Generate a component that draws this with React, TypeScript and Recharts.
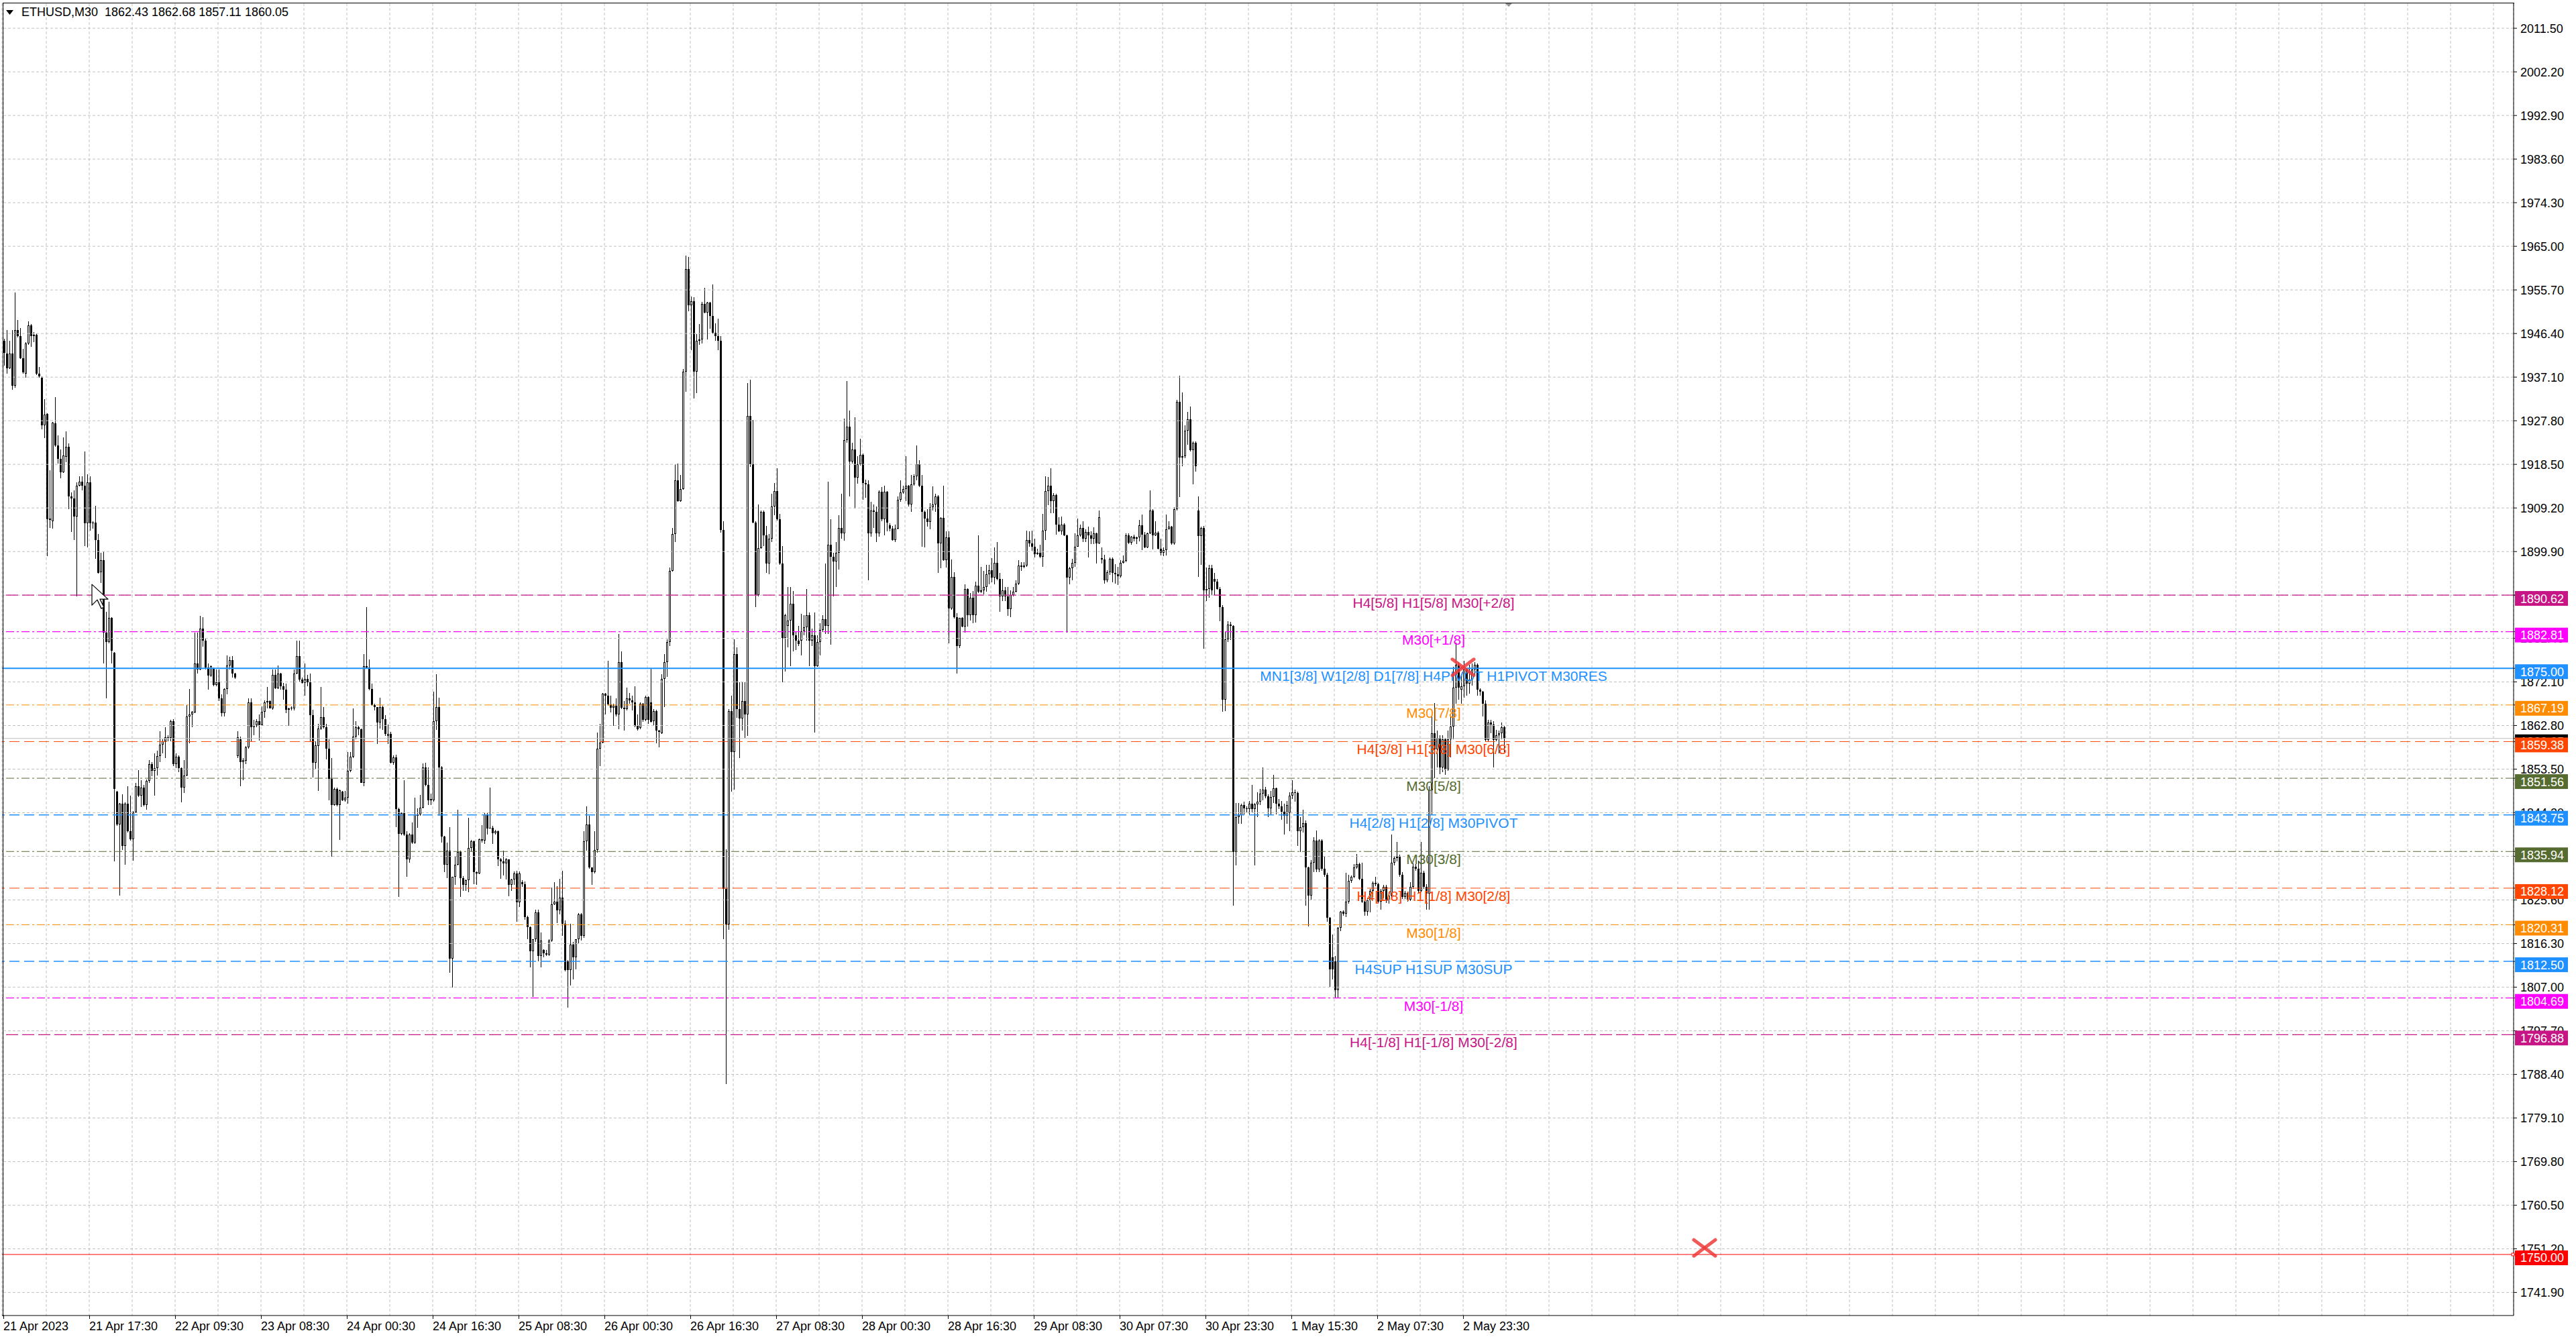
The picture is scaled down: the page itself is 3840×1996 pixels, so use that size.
import React from 'react';
import { ComposedChart, Bar, XAxis, YAxis, CartesianGrid, ReferenceLine, ReferenceDot } from 'recharts';

const FONT = '"Liberation Sans", Arial, sans-serif';

const opens = [
1944.9,1942.1,1939.0,1942.1,1935.3,1947.1,1945.8,1941.1,1937.9,1944.3,
1948.2,1946.2,1946.1,1937.9,1937.0,1926.8,1929.3,1907.0,1906.3,1927.2,
1922.5,1919.7,1916.8,1920.1,1922.3,1911.6,1911.3,1907.4,1914.0,1914.8,
1914.0,1905.9,1914.7,1905.9,1906.1,1902.4,1895.5,1898.0,1882.6,1880.6,
1885.7,1878.3,1848.7,1841.7,1846.1,1837.1,1846.1,1840.3,1838.5,1844.3,
1849.8,1847.8,1849.6,1845.8,1851.0,1854.6,1853.1,1853.7,1856.3,1858.7,
1859.4,1860.3,1860.1,1863.8,1854.6,1856.1,1853.7,1849.6,1852.2,1864.7,
1865.1,1865.6,1876.1,1874.8,1883.5,1880.9,1875.2,1873.4,1874.9,1871.5,
1872.1,1868.6,1865.4,1870.6,1875.6,1876.8,1873.9,1856.3,1859.9,1855.0,
1855.3,1858.1,1867.7,1862.5,1862.9,1863.8,1862.9,1865.7,1867.7,1868.0,
1866.5,1873.6,1870.8,1873.9,1871.2,1870.4,1866.2,1866.4,1866.4,1873.9,
1877.6,1872.6,1871.9,1872.7,1872.1,1865.0,1854.9,1858.4,1862.2,1864.6,
1862.5,1857.8,1851.4,1845.9,1849.3,1845.9,1848.7,1846.8,1847.4,1853.2,
1856.2,1860.4,1862.4,1862.0,1850.6,1875.4,1875.2,1870.6,1867.2,1866.7,
1863.4,1866.7,1864.2,1860.6,1861.0,1854.8,1856.0,1845.0,1839.7,1844.1,
1839.6,1834.2,1839.6,1837.8,1843.5,1843.9,1845.3,1853.9,1850.2,1846.8,
1846.8,1863.8,1866.8,1853.9,1839.1,1833.1,1836.1,1813.1,1830.5,1833.1,
1835.9,1830.3,1828.8,1829.8,1836.7,1838.1,1831.5,1831.3,1838.5,1838.3,
1843.9,1840.9,1841.0,1839.9,1840.3,1834.2,1833.9,1833.4,1834.2,1828.8,
1829.9,1831.3,1825.1,1829.4,1829.0,1821.9,1819.8,1814.6,1817.2,1823.0,
1813.7,1815.0,1814.2,1813.9,1816.9,1824.7,1825.2,1823.4,1826.1,1820.5,
1812.5,1810.6,1816.1,1813.4,1817.2,1822.5,1817.9,1838.1,1841.7,1832.5,
1831.5,1836.3,1857.8,1859.2,1869.6,1869.2,1867.3,1866.6,1867.0,1865.1,
1876.3,1866.6,1866.3,1868.6,1868.2,1867.8,1862.8,1862.3,1867.4,1864.0,
1868.9,1867.8,1863.7,1865.9,1861.7,1861.1,1872.8,1876.3,1880.6,1895.8,
1903.6,1915.1,1910.7,1913.3,1938.3,1960.1,1952.4,1953.3,1938.3,1944.9,
1945.1,1952.7,1950.9,1953.0,1950.1,1946.6,1945.8,1944.9,1904.5,1828.0,
1820.4,1865.9,1857.1,1878.1,1866.3,1864.3,1868.0,1865.1,1928.8,1918.5,
1906.1,1890.7,1900.7,1908.4,1903.4,1897.3,1902.7,1909.5,1912.8,1906.8,
1897.3,1881.5,1884.0,1885.2,1888.7,1882.0,1880.9,1880.9,1882.9,1883.8,
1886.4,1880.9,1882.0,1875.5,1880.6,1883.2,1885.5,1884.1,1901.3,1898.8,
1897.8,1899.6,1905.0,1903.8,1923.7,1926.5,1919.1,1921.7,1915.6,1918.5,
1920.6,1914.5,1914.2,1903.8,1908.7,1908.4,1903.8,1912.6,1906.8,1912.6,
1905.5,1904.8,1902.4,1904.8,1911.0,1912.5,1913.2,1913.9,1909.9,1914.2,
1916.0,1918.5,1913.9,1908.4,1906.9,1906.2,1909.3,1910.0,1911.7,1901.6,
1907.1,1898.1,1903.0,1887.7,1894.5,1885.9,1879.8,1885.7,1883.9,1891.9,
1886.3,1890.0,1886.3,1892.7,1891.3,1891.6,1892.3,1895.0,1895.9,1894.4,
1897.5,1894.0,1890.4,1891.6,1890.4,1887.6,1890.7,1891.4,1893.1,1896.9,
1896.6,1896.9,1902.3,1901.6,1900.9,1899.4,1899.6,1898.8,1904.3,1912.8,
1913.9,1910.7,1912.0,1905.6,1904.2,1905.7,1903.3,1894.3,1896.4,1897.5,
1901.0,1903.3,1905.0,1902.6,1904.1,1903.4,1902.6,1903.8,1901.6,1898.5,
1898.2,1893.8,1895.5,1898.4,1895.4,1895.0,1894.6,1897.5,1897.9,1903.3,
1901.8,1903.1,1902.6,1902.9,1905.5,1903.5,1900.8,1903.8,1908.6,1903.3,
1903.9,1900.5,1899.7,1900.2,1904.7,1905.2,1901.6,1908.9,1931.9,1919.9,
1920.2,1925.7,1928.1,1921.5,1923.1,1908.6,1903.2,1905.0,1891.6,1891.9,
1896.4,1894.0,1893.5,1891.9,1888.0,1868.3,1881.2,1884.4,1884.0,1835.8,
1843.3,1843.7,1845.8,1845.2,1845.0,1846.2,1845.0,1846.0,1846.5,1848.3,
1849.2,1847.7,1845.2,1847.5,1849.4,1846.2,1845.6,1844.4,1843.5,1844.1,
1847.9,1848.5,1848.4,1840.2,1841.1,1842.0,1832.5,1826.6,1833.6,1838.2,
1832.1,1838.2,1832.3,1831.0,1821.8,1813.4,1812.5,1806.4,1819.6,1823.1,
1822.7,1825.3,1829.7,1830.6,1832.5,1833.2,1830.1,1825.3,1823.1,1825.5,
1827.5,1829.2,1829.0,1825.3,1827.5,1828.4,1825.5,1826.6,1833.6,1834.5,
1834.9,1831.0,1826.2,1827.1,1825.7,1828.4,1832.7,1832.3,1827.5,1831.4,
1828.4,1827.0,1849.0,1861.2,1857.7,1860.2,1853.8,1859.9,1853.4,1859.9,
1862.6,1870.9,1875.7,1870.4,1871.2,1874.8,1871.8,1872.6,1874.8,1875.7,
1870.5,1870.0,1867.4,1859.7,1863.4,1863.0,1859.7,1860.8,1861.2,1862.43,
];

const highs = [
1945.3,1947.1,1944.9,1947.1,1955.2,1949.3,1947.5,1943.2,1944.5,1949.0,
1948.4,1946.7,1946.4,1939.2,1937.3,1932.4,1929.4,1917.3,1927.6,1932.9,
1924.7,1921.7,1924.3,1925.6,1923.0,1912.5,1912.9,1914.7,1916.0,1916.0,
1921.2,1916.4,1916.0,1906.3,1909.6,1903.7,1899.7,1899.9,1887.0,1889.2,
1885.9,1878.5,1848.9,1846.3,1848.2,1846.4,1849.9,1847.8,1844.5,1850.6,
1853.3,1851.1,1850.2,1851.3,1855.5,1855.0,1856.8,1857.5,1861.6,1859.8,
1862.5,1860.7,1864.0,1864.2,1856.8,1856.4,1853.9,1855.5,1867.1,1870.6,
1865.9,1882.6,1882.6,1886.2,1885.9,1881.3,1876.1,1875.6,1875.2,1874.8,
1874.8,1869.5,1870.8,1877.8,1877.4,1877.6,1874.1,1861.6,1860.5,1855.9,
1858.5,1868.6,1868.6,1864.0,1864.2,1865.1,1866.9,1868.2,1871.0,1868.2,
1874.8,1874.8,1875.6,1874.1,1871.9,1871.7,1866.6,1866.9,1874.8,1880.9,
1880.9,1873.0,1876.0,1873.6,1873.9,1866.2,1859.5,1863.1,1871.0,1866.7,
1863.1,1859.8,1855.9,1849.6,1849.5,1849.2,1848.9,1848.9,1857.1,1857.1,
1866.4,1863.7,1862.8,1862.2,1878.0,1888.1,1876.9,1871.8,1867.4,1866.8,
1868.8,1867.0,1865.0,1863.0,1861.4,1856.4,1856.6,1845.3,1844.3,1851.2,
1840.2,1839.8,1842.2,1847.4,1845.2,1848.0,1854.7,1854.8,1853.9,1848.3,
1870.0,1873.8,1868.8,1854.1,1839.3,1837.8,1841.1,1830.6,1834.8,1844.9,
1836.1,1830.7,1829.9,1843.1,1838.4,1838.2,1831.7,1838.7,1841.5,1844.3,
1844.1,1849.6,1841.4,1840.5,1840.4,1834.5,1836.1,1834.6,1834.3,1830.1,
1831.7,1831.8,1831.7,1829.8,1829.5,1822.2,1819.9,1817.3,1823.6,1823.6,
1818.6,1815.1,1814.9,1817.3,1828.2,1829.4,1828.5,1830.1,1831.9,1821.3,
1812.8,1820.5,1816.7,1817.3,1822.8,1822.8,1840.2,1845.5,1843.5,1832.6,
1840.3,1861.3,1863.1,1869.8,1869.7,1876.6,1869.2,1867.4,1868.6,1882.3,
1878.6,1868.0,1870.9,1869.7,1869.1,1871.2,1865.1,1867.8,1867.6,1869.1,
1869.0,1875.1,1866.3,1866.1,1861.9,1873.7,1878.1,1881.2,1896.5,1905.0,
1918.5,1918.7,1916.2,1938.9,1963.0,1962.7,1954.3,1954.1,1946.3,1948.4,
1953.2,1956.2,1953.2,1953.2,1956.8,1948.6,1949.5,1945.8,1906.4,1836.4,
1866.3,1869.1,1881.2,1879.5,1872.0,1872.0,1872.0,1935.9,1936.6,1927.9,
1906.4,1909.9,1908.7,1908.6,1905.3,1903.6,1912.2,1914.5,1917.6,1908.0,
1901.1,1886.6,1892.3,1892.3,1891.5,1882.7,1884.1,1886.6,1886.4,1891.9,
1886.9,1883.5,1886.9,1882.0,1884.6,1886.4,1897.3,1914.8,1906.8,1899.6,
1901.9,1907.6,1912.2,1928.3,1936.3,1930.0,1923.1,1928.6,1920.2,1924.0,
1920.8,1915.3,1915.1,1910.5,1909.9,1909.5,1913.0,1913.7,1913.9,1912.8,
1905.9,1905.3,1905.7,1911.6,1915.1,1913.9,1920.2,1914.1,1916.2,1916.4,
1922.5,1919.4,1916.3,1908.7,1909.0,1910.2,1913.8,1912.2,1912.0,1907.2,
1913.9,1904.2,1904.2,1898.2,1895.5,1886.7,1885.8,1885.9,1892.9,1892.0,
1891.0,1891.5,1893.5,1903.3,1896.7,1895.8,1897.0,1897.0,1898.5,1900.8,
1902.0,1895.4,1894.0,1892.3,1892.4,1891.7,1892.3,1893.8,1898.0,1897.7,
1897.7,1904.3,1904.2,1904.3,1902.6,1900.5,1901.3,1907.9,1915.9,1915.8,
1917.6,1912.4,1912.2,1907.2,1907.4,1906.0,1903.5,1896.6,1898.4,1903.8,
1906.9,1905.7,1906.4,1904.6,1905.2,1904.2,1905.1,1903.9,1908.6,1900.8,
1899.2,1895.9,1898.6,1898.6,1897.2,1896.7,1898.0,1899.1,1903.8,1903.8,
1903.2,1903.5,1903.1,1906.7,1907.8,1904.1,1904.0,1912.9,1909.0,1906.4,
1904.2,1902.7,1900.8,1907.8,1906.3,1905.4,1909.3,1932.2,1937.4,1933.8,
1926.8,1929.7,1930.8,1923.4,1923.4,1911.7,1905.2,1905.3,1896.5,1897.0,
1897.0,1895.3,1894.1,1892.4,1888.5,1882.9,1885.0,1884.9,1884.2,1846.3,
1846.3,1846.1,1846.5,1845.6,1846.7,1850.2,1846.3,1848.5,1849.3,1853.8,
1849.7,1848.2,1848.9,1852.3,1849.5,1847.1,1846.7,1846.1,1846.7,1848.5,
1851.2,1849.1,1848.7,1843.3,1844.8,1842.6,1832.7,1834.1,1839.0,1840.4,
1838.6,1838.5,1834.8,1831.4,1822.0,1818.3,1813.6,1819.8,1823.3,1823.4,
1831.4,1831.0,1830.9,1833.2,1835.4,1833.5,1833.6,1825.6,1826.0,1828.0,
1829.5,1830.5,1829.3,1828.0,1828.8,1828.8,1827.2,1839.5,1835.0,1838.0,
1835.3,1831.5,1827.5,1827.4,1829.4,1833.4,1833.2,1834.0,1838.0,1831.9,
1829.0,1849.9,1864.7,1867.6,1861.7,1860.8,1860.8,1860.1,1861.7,1864.7,
1875.3,1880.5,1876.3,1873.5,1876.6,1875.0,1875.7,1876.1,1876.3,1876.1,
1870.7,1870.2,1868.1,1864.0,1864.0,1863.7,1861.9,1861.7,1863.4,1862.68,
];

const lows = [
1939.6,1937.9,1938.8,1934.4,1934.8,1945.5,1941.0,1937.9,1937.0,1944.0,
1943.6,1944.5,1937.6,1937.0,1925.9,1924.1,1898.9,1905.0,1904.8,1922.2,
1918.6,1915.5,1916.6,1919.0,1908.9,1904.1,1902.4,1890.3,1913.8,1912.9,
1901.1,1900.8,1904.3,1904.8,1898.4,1895.2,1893.2,1876.1,1868.6,1880.3,
1876.1,1833.8,1841.4,1826.5,1836.2,1833.1,1840.0,1838.2,1834.0,1844.1,
1847.6,1845.4,1845.6,1844.9,1850.6,1852.0,1847.8,1852.2,1855.0,1856.8,
1855.9,1859.4,1859.4,1854.1,1853.7,1852.8,1846.4,1848.4,1852.0,1859.0,
1862.5,1865.4,1873.9,1874.6,1879.6,1874.8,1870.4,1873.2,1871.2,1871.2,
1868.0,1864.8,1864.7,1869.5,1874.8,1873.0,1872.7,1855.9,1849.9,1851.1,
1854.6,1857.9,1859.4,1860.7,1862.5,1859.6,1862.7,1864.5,1866.4,1866.4,
1866.2,1870.6,1870.6,1870.4,1868.3,1865.4,1862.7,1866.0,1866.0,1873.7,
1872.1,1871.7,1869.1,1871.2,1859.5,1851.7,1853.6,1848.9,1861.9,1862.2,
1855.6,1846.8,1834.8,1845.7,1845.6,1838.4,1846.7,1846.5,1846.2,1852.9,
1855.9,1859.8,1860.7,1850.5,1849.9,1874.9,1870.3,1867.0,1866.0,1858.9,
1862.2,1861.9,1860.6,1858.9,1854.7,1854.5,1841.1,1826.2,1839.4,1839.3,
1830.6,1833.5,1837.5,1837.6,1841.0,1843.5,1845.2,1849.8,1845.9,1845.9,
1846.5,1861.9,1843.5,1837.8,1831.5,1830.3,1810.1,1807.0,1828.8,1833.0,
1826.2,1827.6,1827.6,1827.3,1836.0,1828.9,1828.8,1831.1,1837.8,1837.6,
1839.6,1840.8,1837.5,1839.6,1832.9,1830.1,1830.9,1830.0,1826.4,1827.6,
1828.8,1820.9,1824.1,1828.4,1821.4,1817.2,1811.3,1805.0,1816.7,1812.5,
1811.3,1813.4,1813.7,1813.7,1816.7,1824.6,1820.6,1822.5,1817.9,1810.4,
1802.6,1807.4,1808.7,1810.8,1816.2,1817.0,1817.5,1836.1,1832.2,1828.8,
1831.3,1835.7,1854.2,1859.0,1865.2,1867.0,1865.6,1862.8,1864.8,1862.0,
1866.3,1861.7,1866.0,1867.4,1866.0,1862.5,1861.7,1862.0,1863.6,1863.8,
1863.2,1863.4,1862.8,1859.0,1858.2,1861.0,1866.8,1873.2,1879.7,1895.6,
1901.9,1910.5,1910.5,1913.1,1934.0,1951.2,1942.8,1932.5,1933.7,1944.0,
1944.3,1950.7,1945.1,1947.4,1946.3,1944.9,1942.8,1904.0,1817.3,1786.3,
1819.3,1848.7,1849.1,1864.5,1855.9,1861.7,1860.2,1860.6,1918.0,1905.9,
1888.1,1890.4,1900.5,1901.1,1895.3,1895.0,1901.9,1907.6,1906.5,1897.0,
1872.0,1874.3,1879.5,1875.5,1878.6,1878.9,1879.7,1877.7,1882.0,1880.9,
1875.5,1879.7,1861.3,1875.3,1877.7,1882.7,1882.3,1882.3,1880.0,1890.4,
1892.3,1896.1,1902.7,1902.2,1923.1,1911.6,1918.7,1909.1,1914.4,1918.3,
1911.0,1911.4,1893.8,1903.1,1905.0,1901.9,1903.1,1906.4,1903.4,1904.2,
1904.2,1902.2,1901.9,1904.6,1910.5,1912.2,1910.6,1909.5,1908.4,1913.9,
1915.1,1913.7,1900.9,1900.8,1905.2,1904.6,1908.6,1908.4,1895.4,1896.3,
1897.9,1896.5,1880.3,1887.5,1885.6,1873.9,1879.3,1883.7,1882.6,1883.9,
1885.2,1884.6,1884.7,1891.0,1891.0,1890.8,1891.4,1892.9,1893.3,1892.9,
1893.8,1887.0,1889.3,1889.4,1886.2,1885.9,1890.4,1891.2,1892.8,1895.8,
1896.4,1896.7,1900.9,1900.1,1898.7,1899.2,1898.5,1896.7,1902.3,1909.8,
1908.1,1908.1,1903.5,1904.1,1903.5,1903.2,1882.6,1892.9,1893.8,1896.7,
1900.9,1903.1,1901.9,1901.9,1898.7,1901.5,1901.5,1897.3,1901.5,1897.3,
1893.1,1893.3,1894.9,1893.4,1893.1,1892.8,1894.4,1897.3,1897.7,1901.5,
1901.4,1902.1,1901.5,1902.1,1900.2,1900.6,1900.6,1903.7,1900.3,1903.2,
1900.3,1899.1,1898.9,1899.1,1904.6,1901.3,1901.4,1908.7,1911.5,1918.1,
1919.8,1922.7,1921.2,1914.3,1916.9,1894.5,1897.0,1879.2,1889.3,1890.0,
1890.7,1890.7,1891.8,1885.1,1865.8,1865.9,1880.6,1881.0,1824.4,1833.0,
1841.9,1841.9,1843.9,1844.3,1843.8,1844.3,1833.0,1843.3,1845.8,1846.8,
1847.3,1843.3,1843.8,1846.3,1843.8,1845.0,1842.7,1839.5,1841.9,1840.2,
1847.2,1846.5,1837.1,1835.8,1840.0,1824.4,1820.0,1825.5,1831.6,1831.5,
1831.5,1831.9,1830.5,1821.0,1807.0,1808.6,1804.7,1804.7,1819.0,1822.3,
1821.9,1824.8,1829.2,1830.3,1832.2,1829.8,1824.9,1822.2,1822.2,1822.9,
1826.3,1828.5,1824.9,1823.5,1826.0,1825.0,1824.8,1826.0,1833.0,1833.9,
1830.5,1825.8,1825.8,1825.2,1825.4,1828.0,1831.8,1827.0,1827.2,1828.0,
1823.5,1823.5,1843.7,1851.6,1853.8,1852.5,1852.9,1852.3,1853.2,1856.0,
1859.9,1867.4,1868.3,1867.4,1868.7,1869.1,1869.6,1871.3,1873.5,1869.1,
1869.1,1864.7,1859.5,1859.5,1861.2,1853.8,1859.5,1856.9,1859.9,1857.11,
];

const closes = [
1942.3,1939.0,1942.1,1935.3,1947.1,1945.8,1941.1,1938.1,1944.3,1948.2,
1945.8,1945.8,1937.9,1937.3,1926.8,1929.1,1906.8,1906.6,1927.4,1922.5,
1919.7,1916.8,1920.4,1922.3,1911.6,1911.3,1907.4,1914.0,1914.8,1914.0,
1905.9,1914.7,1905.9,1906.1,1902.4,1895.4,1898.0,1882.6,1880.6,1885.7,
1878.7,1849.3,1841.7,1846.1,1837.1,1846.1,1840.3,1838.5,1844.3,1849.8,
1847.8,1849.6,1845.8,1851.0,1854.6,1853.1,1853.7,1856.3,1858.7,1859.4,
1860.3,1860.1,1863.8,1854.6,1856.1,1853.7,1849.6,1852.2,1864.7,1865.1,
1865.7,1876.1,1874.8,1883.5,1880.9,1875.2,1873.4,1875.4,1871.5,1872.1,
1868.6,1865.4,1870.6,1875.6,1876.8,1873.9,1873.0,1860.3,1855.0,1855.5,
1858.1,1867.7,1862.5,1862.9,1863.8,1862.9,1865.7,1867.7,1868.0,1866.5,
1873.6,1870.8,1873.9,1871.2,1870.4,1866.2,1866.4,1866.6,1873.9,1877.6,
1872.6,1871.9,1872.7,1872.1,1865.0,1854.9,1858.6,1862.2,1864.6,1862.5,
1857.8,1851.4,1845.9,1849.3,1845.9,1849.0,1846.8,1847.4,1853.2,1856.2,
1860.4,1862.4,1862.0,1850.6,1875.4,1875.2,1870.6,1867.2,1866.7,1863.4,
1866.7,1864.2,1861.0,1861.0,1854.8,1856.0,1845.0,1839.7,1844.1,1839.6,
1834.2,1839.6,1837.8,1843.9,1843.9,1845.3,1853.9,1850.2,1846.8,1847.1,
1863.8,1866.8,1853.9,1839.1,1833.1,1836.1,1813.1,1830.5,1833.1,1835.9,
1830.3,1828.8,1829.8,1836.7,1838.1,1831.5,1831.3,1838.5,1838.3,1843.9,
1840.9,1841.0,1839.9,1840.3,1834.2,1833.9,1833.4,1834.2,1828.8,1829.9,
1831.3,1825.1,1831.3,1829.0,1821.9,1819.8,1814.6,1817.2,1823.0,1813.7,
1816.9,1814.2,1813.9,1816.9,1824.7,1825.2,1823.4,1826.1,1820.5,1810.6,
1810.6,1816.1,1813.4,1817.2,1822.5,1817.9,1838.1,1841.7,1832.5,1831.5,
1836.3,1857.8,1859.2,1869.6,1869.2,1867.3,1866.6,1867.0,1865.1,1876.3,
1866.6,1866.3,1868.6,1868.2,1867.8,1862.8,1862.0,1867.4,1864.0,1868.9,
1864.0,1863.6,1865.9,1861.7,1861.4,1872.8,1876.3,1880.6,1895.8,1903.6,
1915.1,1910.7,1913.3,1938.3,1960.1,1952.4,1953.3,1938.3,1944.9,1945.1,
1952.7,1950.9,1953.0,1950.1,1946.6,1945.8,1944.9,1904.5,1828.0,1820.4,
1865.9,1857.1,1878.1,1866.3,1864.3,1868.0,1865.1,1928.8,1918.5,1906.1,
1890.7,1900.7,1908.4,1903.4,1897.3,1902.7,1909.5,1912.8,1906.8,1897.3,
1881.5,1886.4,1885.2,1888.7,1882.0,1880.9,1880.2,1882.9,1883.8,1886.4,
1880.9,1882.0,1875.5,1880.6,1883.2,1885.5,1884.1,1901.3,1898.8,1897.8,
1899.6,1905.0,1903.8,1923.7,1926.5,1919.1,1921.7,1915.6,1918.5,1920.6,
1914.5,1914.2,1903.8,1908.7,1908.4,1903.8,1912.6,1906.8,1912.6,1906.1,
1904.8,1902.4,1904.8,1911.0,1912.5,1913.2,1913.9,1909.9,1914.2,1916.0,
1918.5,1913.9,1908.4,1906.9,1906.2,1909.3,1910.0,1911.7,1901.6,1907.1,
1898.1,1903.0,1887.7,1894.5,1885.9,1879.8,1885.7,1883.9,1891.9,1886.3,
1890.0,1886.3,1892.7,1891.3,1891.6,1892.3,1895.0,1895.9,1894.4,1897.5,
1894.0,1890.4,1891.6,1890.4,1887.6,1890.7,1891.4,1893.1,1896.9,1896.6,
1896.9,1902.3,1901.6,1900.9,1899.4,1899.6,1898.8,1904.3,1912.8,1913.9,
1910.7,1912.0,1905.6,1904.2,1905.7,1903.3,1894.3,1896.4,1897.5,1901.0,
1903.3,1905.0,1902.6,1904.1,1903.4,1902.6,1903.8,1901.6,1907.2,1898.2,
1893.8,1895.5,1898.4,1895.4,1895.0,1894.6,1897.5,1897.9,1903.3,1901.8,
1903.1,1902.6,1902.9,1905.5,1903.5,1900.8,1903.8,1908.6,1903.3,1903.9,
1900.5,1899.7,1900.2,1904.7,1905.2,1901.6,1908.9,1931.9,1919.9,1920.2,
1925.7,1928.1,1921.5,1923.1,1918.1,1903.2,1905.0,1891.6,1891.9,1896.4,
1891.6,1893.5,1891.9,1888.0,1868.3,1881.2,1884.4,1884.0,1835.8,1843.3,
1843.7,1845.8,1845.2,1845.0,1846.2,1845.0,1846.0,1846.5,1848.3,1849.2,
1847.7,1845.2,1847.5,1849.4,1846.2,1845.6,1844.4,1843.5,1845.9,1847.9,
1848.5,1848.4,1840.2,1841.1,1842.0,1832.5,1826.6,1833.6,1838.2,1832.1,
1838.2,1832.3,1831.0,1821.8,1810.8,1810.8,1806.4,1819.6,1823.1,1822.7,
1825.3,1829.7,1830.6,1832.5,1833.2,1830.1,1825.3,1823.1,1825.5,1827.5,
1829.2,1829.0,1825.3,1827.5,1828.4,1825.5,1826.6,1833.6,1834.5,1834.9,
1831.0,1826.2,1827.1,1825.7,1828.4,1832.7,1832.3,1827.5,1831.4,1828.4,
1827.0,1849.0,1861.2,1857.7,1860.2,1853.8,1859.9,1853.4,1859.9,1862.6,
1870.9,1875.7,1870.9,1871.2,1874.8,1871.8,1872.6,1874.8,1875.7,1870.5,
1870.0,1867.4,1859.7,1863.4,1863.0,1859.7,1860.8,1861.2,1862.4,1860.05,
];

const timeLabels = [
  '21 Apr 2023', '21 Apr 17:30', '22 Apr 09:30', '23 Apr 08:30', '24 Apr 00:30', '24 Apr 16:30',
  '25 Apr 08:30', '26 Apr 00:30', '26 Apr 16:30', '27 Apr 08:30', '28 Apr 00:30', '28 Apr 16:30',
  '29 Apr 08:30', '30 Apr 07:30', '30 Apr 23:30', '1 May 15:30', '2 May 07:30', '2 May 23:30',
];

const priceTicks = [
  2011.5, 2002.2, 1992.9, 1983.6, 1974.3, 1965.0, 1955.7, 1946.4, 1937.1, 1927.8,
  1918.5, 1909.2, 1899.9, 1890.6, 1881.4, 1872.1, 1862.8, 1853.5, 1844.2, 1834.9,
  1825.6, 1816.3, 1807.0, 1797.7, 1788.4, 1779.1, 1769.8, 1760.5, 1751.2, 1741.9,
];

const levelPrices = [1890.62, 1882.81, 1875.0, 1867.19, 1859.38, 1851.56, 1843.75, 1835.94, 1828.12, 1820.31, 1812.5, 1804.69, 1796.88];
const levelTexts = [
  'H4[5/8] H1[5/8] M30[+2/8]',
  'M30[+1/8]',
  'MN1[3/8] W1[2/8] D1[7/8] H4PIVOT H1PIVOT M30RES',
  'M30[7/8]',
  'H4[3/8] H1[3/8] M30[6/8]',
  'M30[5/8]',
  'H4[2/8] H1[2/8] M30PIVOT',
  'M30[3/8]',
  'H4[1/8] H1[1/8] M30[2/8]',
  'M30[1/8]',
  'H4SUP H1SUP M30SUP',
  'M30[-1/8]',
  'H4[-1/8] H1[-1/8] M30[-2/8]',
];
const levelColors = ['#C71585', '#FF00FF', '#1E90FF', '#FF8C00', '#FF4500', '#556B2F', '#1E90FF', '#556B2F', '#FF4500', '#FF8C00', '#1E90FF', '#FF00FF', '#C71585'];
const levelDashes = ['18 6', '12 4 3 4', undefined, '12 4 3 4', '15 7', '12 4 3 4', '15 7', '12 4 3 4', '15 7', '12 4 3 4', '15 7', '12 4 3 4', '18 6'];
const levelWidths = [1.2, 1.2, 2, 1, 1, 1, 1.5, 1, 1, 1, 1.5, 1.2, 1.2];

const bidPrice = 1860.05;
const alertPrice = 1750.0;
const markerSlots = [544, 634];
const markerPrices = [1875.2, 1751.4];

// price boxes on the right scale, drawn in this order (later ones on top)
const boxPrices = [bidPrice, ...levelPrices, alertPrice];
const boxColors = ['#000000', ...levelColors, '#FF0000'];

const SLOTS = 936;
const LABEL_STEP = 32;
const GRID_STEP = 16;
const TEXT_SLOT = 533;
const SHIFT_SLOT = 561;
const CURSOR_SLOT = 33;
const CURSOR_PRICE = 1892.9;
const Y_MIN = 1736.98;
const Y_MAX = 2016.81;

const rows = Array.from({ length: SLOTS }, (_, i) =>
  i < closes.length
    ? { i, o: opens[i], h: highs[i], l: lows[i], c: closes[i], hl: [lows[i], highs[i]] }
    : { i, hl: null }
);

function Candle(props: any) {
  const { x, y, width, height, payload } = props;
  if (!payload || payload.c == null || !isFinite(y) || !isFinite(height)) return <g />;
  const { o, h, l, c } = payload;
  const top = Math.min(y, y + height);
  const span = Math.abs(height);
  const toY = (p: number) => (h === l ? top : top + ((h - p) / (h - l)) * span);
  const cx = Math.round(x + width / 2);
  const yTop = Math.round(top);
  const yBot = Math.round(top + span);
  const yo = Math.round(toY(o));
  const yc = Math.round(toY(c));
  const bTop = Math.min(yo, yc);
  const bH = Math.max(Math.max(yo, yc) - bTop, 1);
  const bull = c > o;
  return (
    <g shapeRendering="crispEdges">
      <rect x={cx} y={yTop} width={1} height={Math.max(yBot - yTop, 1)} fill="#000" />
      <rect x={cx - 1} y={bTop} width={3} height={bH} fill="#000" />
      {bull && bH > 2 ? <rect x={cx} y={bTop + 1} width={1} height={bH - 2} fill="#fff" /> : null}
    </g>
  );
}

function TimeTick(props: any) {
  const { x, y, payload } = props;
  const v = Number(payload && payload.value);
  if (v % LABEL_STEP !== 0) return <g />;
  const label = timeLabels[v / LABEL_STEP];
  if (!label) return <g />;
  return (
    <g>
      <rect x={x} y={y} width={1} height={5} fill="#000" shapeRendering="crispEdges" />
      <text x={x} y={y + 22} fill="#000" fontSize={18} fontFamily={FONT}>{label}</text>
    </g>
  );
}

function PriceTick(props: any) {
  const { x, y, payload } = props;
  const v = Number(payload && payload.value);
  const k = boxPrices.indexOf(v);
  if (k < 0) {
    return (
      <text x={x} y={y} dy="0.355em" fill="#000" fontSize={18} fontFamily={FONT}>{v.toFixed(2)}</text>
    );
  }
  return (
    <g>
      <rect x={x - 8} y={y - 6} width={79} height={22} fill={boxColors[k]} />
      <text x={x} y={y + 11.5} fill="#fff" fontSize={18} fontFamily={FONT}>{v.toFixed(2)}</text>
    </g>
  );
}

const levelText = (text: string, color: string) => (sp: any) => (
  <text x={sp.cx} y={sp.cy + 19} textAnchor="middle" fill={color} fontSize={21} fontFamily={FONT}>{text}</text>
);

const XMark = (sp: any) => (
  <g stroke="#EE3B3B" strokeOpacity={0.85} strokeWidth={5} strokeLinecap="round">
    <line x1={sp.cx - 16} y1={sp.cy - 12} x2={sp.cx + 16} y2={sp.cy + 12} />
    <line x1={sp.cx - 16} y1={sp.cy + 12} x2={sp.cx + 16} y2={sp.cy - 12} />
  </g>
);

const ShiftMark = (sp: any) => (
  <polygon points={`${sp.cx - 6},${sp.cy - 1} ${sp.cx + 6},${sp.cy - 1} ${sp.cx},${sp.cy + 5}`} fill="#909090" />
);

const EndSquare = (sp: any) => (
  <rect x={sp.cx - 1} y={sp.cy - 2} width={4} height={4} fill="#fff" stroke="#FF0000" strokeWidth={1} />
);

const Cursor = (sp: any) => {
  const pts = [[0, 0], [0, 31], [8, 23], [14, 36], [18, 34], [12, 22], [24, 22]]
    .map(([dx, dy]) => `${sp.cx + dx},${sp.cy + dy}`)
    .join(' ');
  return <polygon points={pts} fill="#fff" stroke="#000" strokeWidth={1.2} strokeLinejoin="round" />;
};

export default function App() {
  return (
    <div style={{ position: 'fixed', left: 0, top: 0, width: 3840, height: 1996, background: '#fff', overflow: 'hidden' }}>
      <ComposedChart width={3840} height={1996} data={rows} margin={{ top: 5, right: 0, bottom: 0, left: 3 }} barCategoryGap={0}>
        <CartesianGrid horizontal={false} stroke="#C0C0C0" strokeDasharray="4 3" />
        <XAxis
          dataKey="i"
          type="category"
          interval={GRID_STEP - 1}
          height={35}
          tickSize={0}
          tickMargin={0}
          tickLine={false}
          axisLine={{ stroke: '#000', strokeWidth: 1 }}
          tick={(p: any) => <TimeTick {...p} />}
        />
        <YAxis
          orientation="right"
          type="number"
          width={93}
          domain={[Y_MIN, Y_MAX]}
          allowDataOverflow
          ticks={[...priceTicks, ...boxPrices]}
          interval={0}
          tickSize={5}
          tickMargin={5}
          tick={(p: any) => <PriceTick {...p} />}
          tickLine={{ stroke: '#000' }}
          axisLine={{ stroke: '#000', strokeWidth: 1 }}
        />
        {priceTicks.map((p, k) => (
          <ReferenceLine key={'g' + k} y={p} stroke="#C0C0C0" strokeDasharray="4 3" strokeWidth={1} />
        ))}
        {levelPrices.map((p, k) => (
          <ReferenceDot key={'t' + k} x={TEXT_SLOT} y={p} r={0} ifOverflow="visible" shape={levelText(levelTexts[k], levelColors[k])} />
        ))}
        <ReferenceLine y={bidPrice} stroke="#C0C0C0" strokeWidth={1} />
        {levelPrices.map((p, k) => (
          <ReferenceLine
            key={'l' + k}
            y={p}
            stroke={levelColors[k]}
            strokeWidth={levelWidths[k]}
            strokeDasharray={levelDashes[k]}
          />
        ))}
        <ReferenceLine y={alertPrice} stroke="#FF0000" strokeWidth={1} />
        <Bar dataKey="hl" barSize={3} isAnimationActive={false} shape={(p: any) => <Candle {...p} />} />
        {markerSlots.map((s, k) => (
          <ReferenceDot key={'m' + k} x={s} y={markerPrices[k]} r={0} ifOverflow="visible" shape={XMark} />
        ))}
        <ReferenceDot x={SLOTS - 1} y={alertPrice} r={0} ifOverflow="visible" shape={EndSquare} />
        <ReferenceDot x={SHIFT_SLOT} y={Y_MAX} r={0} ifOverflow="visible" shape={ShiftMark} />
        <ReferenceDot x={CURSOR_SLOT} y={CURSOR_PRICE} r={0} ifOverflow="visible" shape={Cursor} />
      </ComposedChart>
      <div style={{ position: 'absolute', left: 4, top: 4, width: 3743, height: 1957, borderLeft: '1px solid #000', borderTop: '1px solid #000', pointerEvents: 'none' }} />
      <svg style={{ position: 'absolute', left: 0, top: 0 }} width={30} height={30}>
        <polygon points="9,15 20,15 14.5,22" fill="#000" />
      </svg>
      <div style={{ position: 'absolute', left: 32, top: 6, fontFamily: FONT, fontSize: 18, lineHeight: '24px', whiteSpace: 'pre', color: '#000' }}>
        {'ETHUSD,M30  1862.43 1862.68 1857.11 1860.05'}
      </div>
    </div>
  );
}
